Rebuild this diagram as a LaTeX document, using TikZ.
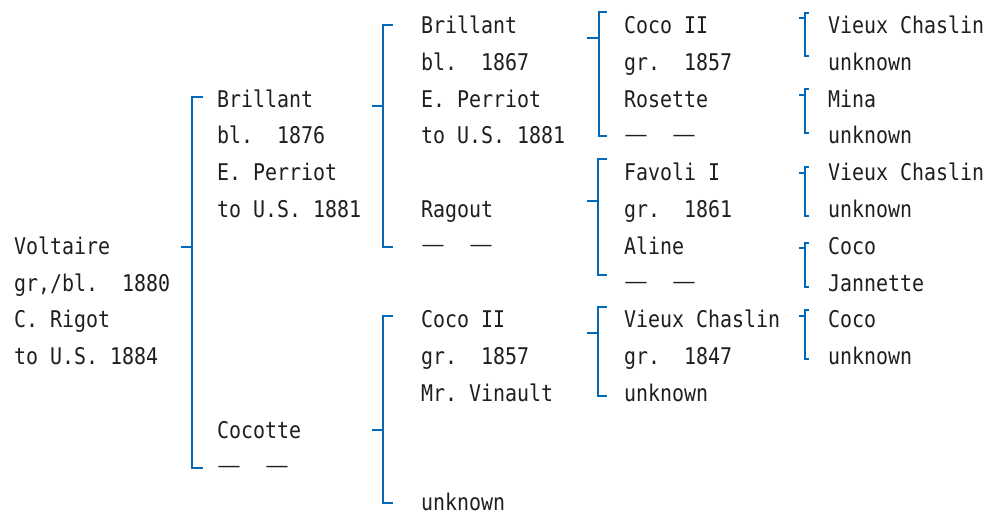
\documentclass[tikz,border=0pt]{standalone}
\usepackage{fontspec}
\newfontfamily\monof[FakeStretch=0.867]{DejaVu Sans Mono}
\newfontfamily\dashfont{DejaVu Sans}
\definecolor{brkblue}{RGB}{0,104,183}
\definecolor{ink}{RGB}{30,30,30}
\newcommand\hl[4]{\node[txt] (#1) at (#2,{33.5+36.8*#3}) {#4};}
\newcommand\dsh{\makebox[24pt]{\raisebox{2.6pt}{\scalebox{1.3}[1.1]{—}}}}
\newcommand\dashes[3]{\node[txt] (#1) at (#2,{33.5+36.8*#3}) {\dashfont\fontsize{18}{18}\selectfont\dsh\makebox[24pt]{}\dsh};}
% name, x, top, bottom, stub y, tick end x, stub start x
\newcommand\brkt[7]{%
  \coordinate (#1-t) at (#2,#3);
  \coordinate (#1-b) at (#2,#4);
  \coordinate (#1-te) at (#6,#3);
  \coordinate (#1-be) at (#6,#4);
  \coordinate (#1-s) at (#7,#5);
  \coordinate (#1-m) at (#2,#5);
  \draw[brkline] (#1-te) -- (#1-t) -- (#1-b) -- (#1-be);
  \draw[brkline] (#1-s) -- (#1-m);}
\begin{document}
\begin{tikzpicture}[x=1pt,y=-1pt,
  txt/.style={anchor=base west, inner sep=0pt, outer sep=0pt,
    font=\monof\fontsize{23}{23}\selectfont, text=ink},
  brkline/.style={draw=brkblue, line width=1.5pt}]
\useasboundingbox (0,0) rectangle (992,514);
% column 0
\hl{a1}{14}{6}{Voltaire}
\hl{a2}{14}{7}{gr,/bl.~~1880}
\hl{a3}{14}{8}{C.~Rigot}
\hl{a4}{14}{9}{to~U.S.~1884}
% column 1
\hl{b1}{217}{2}{Brillant}
\hl{b2}{217}{3}{bl.~~1876}
\hl{b3}{217}{4}{E.~Perriot}
\hl{b4}{217}{5}{to~U.S.~1881}
\hl{b5}{217}{11}{Cocotte}
\dashes{b6}{217}{12}
% column 2
\hl{c1}{421}{0}{Brillant}
\hl{c2}{421}{1}{bl.~~1867}
\hl{c3}{421}{2}{E.~Perriot}
\hl{c4}{421}{3}{to~U.S.~1881}
\hl{c5}{421}{5}{Ragout}
\dashes{c6}{421}{6}
\hl{c7}{421}{8}{Coco~II}
\hl{c8}{421}{9}{gr.~~1857}
\hl{c9}{421}{10}{Mr.~Vinault}
\hl{c10}{421}{12.95}{unknown}
% column 3
\hl{d1}{624}{0}{Coco~II}
\hl{d2}{624}{1}{gr.~~1857}
\hl{d3}{624}{2}{Rosette}
\dashes{d4}{624}{3}
\hl{d5}{624}{4}{Favoli~I}
\hl{d6}{624}{5}{gr.~~1861}
\hl{d7}{624}{6}{Aline}
\dashes{d8}{624}{7}
\hl{d9}{624}{8}{Vieux~Chaslin}
\hl{d10}{624}{9}{gr.~~1847}
\hl{d11}{624}{10}{unknown}
% column 4
\hl{e1}{828}{0}{Vieux~Chaslin}
\hl{e2}{828}{1}{unknown}
\hl{e3}{828}{2}{Mina}
\hl{e4}{828}{3}{unknown}
\hl{e5}{828}{4}{Vieux~Chaslin}
\hl{e6}{828}{5}{unknown}
\hl{e7}{828}{6}{Coco}
\hl{e8}{828}{7}{Jannette}
\hl{e9}{828}{8}{Coco}
\hl{e10}{828}{9}{unknown}
% brackets
\brkt{k1}{192}{97}{468}{247}{203}{181}
\brkt{k2}{383}{25}{247}{106}{393}{372}
\brkt{k3}{383}{316}{503}{430}{393}{372}
\brkt{k4}{599}{12}{136}{38}{607}{587}
\brkt{k5}{598}{159}{275}{201}{607}{587}
\brkt{k6}{598}{307}{396}{333}{607}{587}
\brkt{k7}{805}{13}{56}{18}{809}{799}
\brkt{k8}{805}{89}{133}{95}{809}{799}
\brkt{k9}{805}{167}{216}{173}{809}{799}
\brkt{k10}{805}{243}{287}{248}{809}{799}
\brkt{k11}{805}{310}{359}{316}{809}{799}
\end{tikzpicture}
\end{document}
